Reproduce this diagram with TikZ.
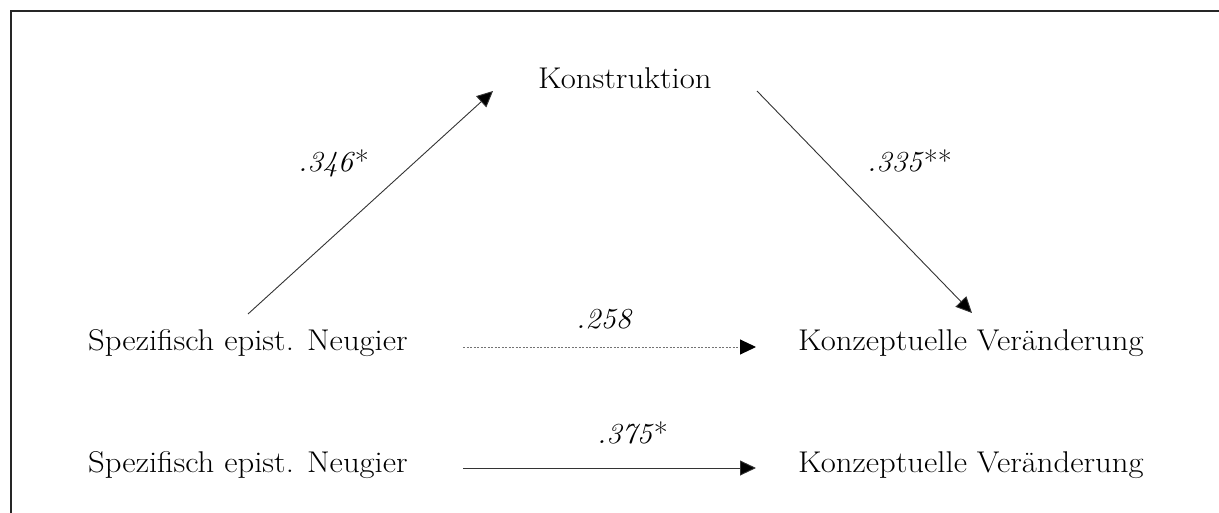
\documentclass[tikz,border=0pt]{standalone}
\usetikzlibrary{arrows.meta,calc}
\begin{document}
\begin{tikzpicture}[x=1pt,y=-1pt,
  lbl/.style={inner sep=0pt,anchor=base west,xscale=1.09,transform shape,font=\fontsize{30}{33}\selectfont},
  coef/.style={inner sep=0pt,anchor=base west,xscale=1.05,transform shape,font=\fontsize{29}{32}\selectfont},
  arr/.style={line width=0.9pt,draw=black!80,-{Triangle[length=16pt,width=15pt,fill=black]}},
  dotarr/.style={line width=1pt,draw=black!55,dash pattern=on 2pt off 1.5pt,-{Triangle[length=16pt,width=15pt,fill=black,color=black]}}]
\useasboundingbox (0,0) rectangle (1219,513);
\draw[line width=1.5pt,black!85] (11,513) -- (11,11) -- (1219,11);
\node[lbl] (k) at (538,89) {Konstruktion};
\node[lbl] (s1) at (88,350) {Spezifisch epist. Neugier};
\node[lbl] (c1) at (798,350) {Konzeptuelle Veränderung};
\node[lbl] (s2) at (88,472) {Spezifisch epist. Neugier};
\node[lbl] (c2) at (798,472) {Konzeptuelle Veränderung};
\node[coef] (l1) at (298,172) {\textit{.346}*};
\node[coef] (l2) at (867,172) {\textit{.335}**};
\node[coef] (l3) at (576,328) {\textit{.258}};
\node[coef] (l4) at (597,443) {\textit{.375}*};
\draw[arr] ($(s1.base west)+(160,-36)$) -- ($(k.base west)+(-45,2)$);
\draw[arr] ($(k.base west)+(219,2)$) -- ($(c1.base west)+(174,-37)$);
\draw[dotarr] ($(s1.base west)+(375,-3)$) -- ($(c1.base west)+(-42,-3)$);
\draw[arr] ($(s2.base west)+(375,-4)$) -- ($(c2.base west)+(-42,-4)$);
\end{tikzpicture}
\end{document}
